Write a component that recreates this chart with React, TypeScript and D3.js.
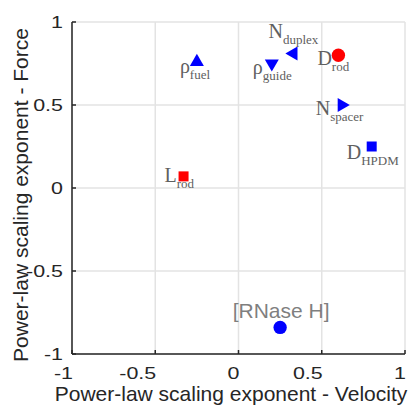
import React from 'react';
import * as d3 from 'd3';

// data
const names = ['ρ', 'L', 'ρ', 'N', 'D', 'N', 'D', '[RNase H]'];
const subs = ['fuel', 'rod', 'guide', 'duplex', 'rod', 'spacer', 'HPDM', ''];
const velocity = [-0.25, -0.33, 0.2, 0.33, 0.6, 0.62, 0.8, 0.25];
const force = [0.76, 0.07, 0.75, 0.81, 0.8, 0.5, 0.25, -0.84];
const shapes = ['up', 'square', 'down', 'left', 'circle', 'right', 'square', 'circle'];
const colors = ['#0000ff', '#ff0000', '#0000ff', '#0000ff', '#ff0000', '#0000ff', '#0000ff', '#0000ff'];
const ticks = [-1, -0.5, 0, 0.5, 1];
const tickLabels = ['-1', '-0.5', '0', '0.5', '1'];

// label placement (px, relative to marker)
const labelDx = [-17, -19, -19, -25, -21, -26, -25, 1];
const labelDy = [11, 6, 10, -16, 10, 10, 12, -9];

const W = 413;
const H = 406;

const x = d3.scaleLinear().domain([-1, 1]).range([72, 405]);
const y = d3.scaleLinear().domain([-1, 1]).range([354, 22]);

const rot: Record<string, number> = { up: 0, down: 180, left: -90, right: 90 };

function marker(shape: string) {
  if (shape === 'square') return d3.symbol().type(d3.symbolSquare).size(100)();
  if (shape === 'circle') return d3.symbol().type(d3.symbolCircle).size(140)();
  return d3.symbol().type(d3.symbolTriangle).size(85)();
}

const sans = 'Arial, "Liberation Sans", Helvetica, sans-serif';
const serif = '"Liberation Serif", "Times New Roman", serif';

export default function App() {
  return (
    <svg width={W} height={H} style={{ position: 'absolute', left: 0, top: 0 }}>
      <rect width={W} height={H} fill="#fff" />
      {/* grid */}
      {ticks.map((t) => (
        <g key={'g' + t}>
          <line x1={x(t)} x2={x(t)} y1={y(-1)} y2={y(1)} stroke="#e3e3e3" strokeWidth={1.5} />
          <line x1={x(-1)} x2={x(1)} y1={y(t)} y2={y(t)} stroke="#e3e3e3" strokeWidth={1.5} />
        </g>
      ))}
      {/* axes */}
      <line x1={x(-1)} x2={x(1)} y1={y(-1)} y2={y(-1)} stroke="#262626" strokeWidth={1.5} />
      <line x1={x(-1)} x2={x(-1)} y1={y(-1)} y2={y(1)} stroke="#262626" strokeWidth={1.5} />
      {ticks.map((t, i) => (
        <g key={'t' + t}>
          <line x1={x(t)} x2={x(t)} y1={y(-1)} y2={y(-1) - 4} stroke="#262626" strokeWidth={1.5} />
          <line x1={x(-1)} x2={x(-1) + 4} y1={y(t)} y2={y(t)} stroke="#262626" strokeWidth={1.5} />
          <g transform={`translate(${x(t) + 1},${y(-1) + 25}) scale(1.3,1)`}>
            <text textAnchor="end" fontFamily={sans} fontSize={16.5} fill="#262626">
              {tickLabels[i]}
            </text>
          </g>
          <g transform={`translate(${x(-1) - 9},${y(t) + 6}) scale(1.3,1)`}>
            <text textAnchor="end" fontFamily={sans} fontSize={16.5} fill="#262626">
              {tickLabels[i]}
            </text>
          </g>
        </g>
      ))}
      <text x={231} y={401} textAnchor="middle" fontFamily={sans} fontSize={21} fill="#262626">
        Power-law scaling exponent - Velocity
      </text>
      <text
        transform={`translate(28,195) rotate(-90)`}
        textAnchor="middle"
        fontFamily={sans}
        fontSize={21}
        fill="#262626"
      >
        Power-law scaling exponent - Force
      </text>
      {/* points */}
      {velocity.map((v, i) => {
        const cx = x(v);
        const cy = y(force[i]);
        const r = rot[shapes[i]] ?? 0;
        return (
          <g key={'p' + i}>
            <path d={marker(shapes[i]) || ''} transform={`translate(${cx},${cy}) rotate(${r})`} fill={colors[i]} />
          </g>
        );
      })}
      {/* labels */}
      {velocity.map((v, i) => {
        const lx = x(v) + labelDx[i];
        const ly = y(force[i]) + labelDy[i];
        if (!subs[i]) {
          return (
            <text key={'l' + i} x={lx} y={ly} textAnchor="middle" fontFamily={sans} fontSize={21} fill="#7f7f7f">
              {names[i]}
            </text>
          );
        }
        return (
          <text key={'l' + i} x={lx} y={ly} fontFamily={serif} fontSize={20} fill="#606060">
            {names[i]}
            <tspan fontSize={13} dy={6}>
              {subs[i]}
            </tspan>
          </text>
        );
      })}
    </svg>
  );
}
